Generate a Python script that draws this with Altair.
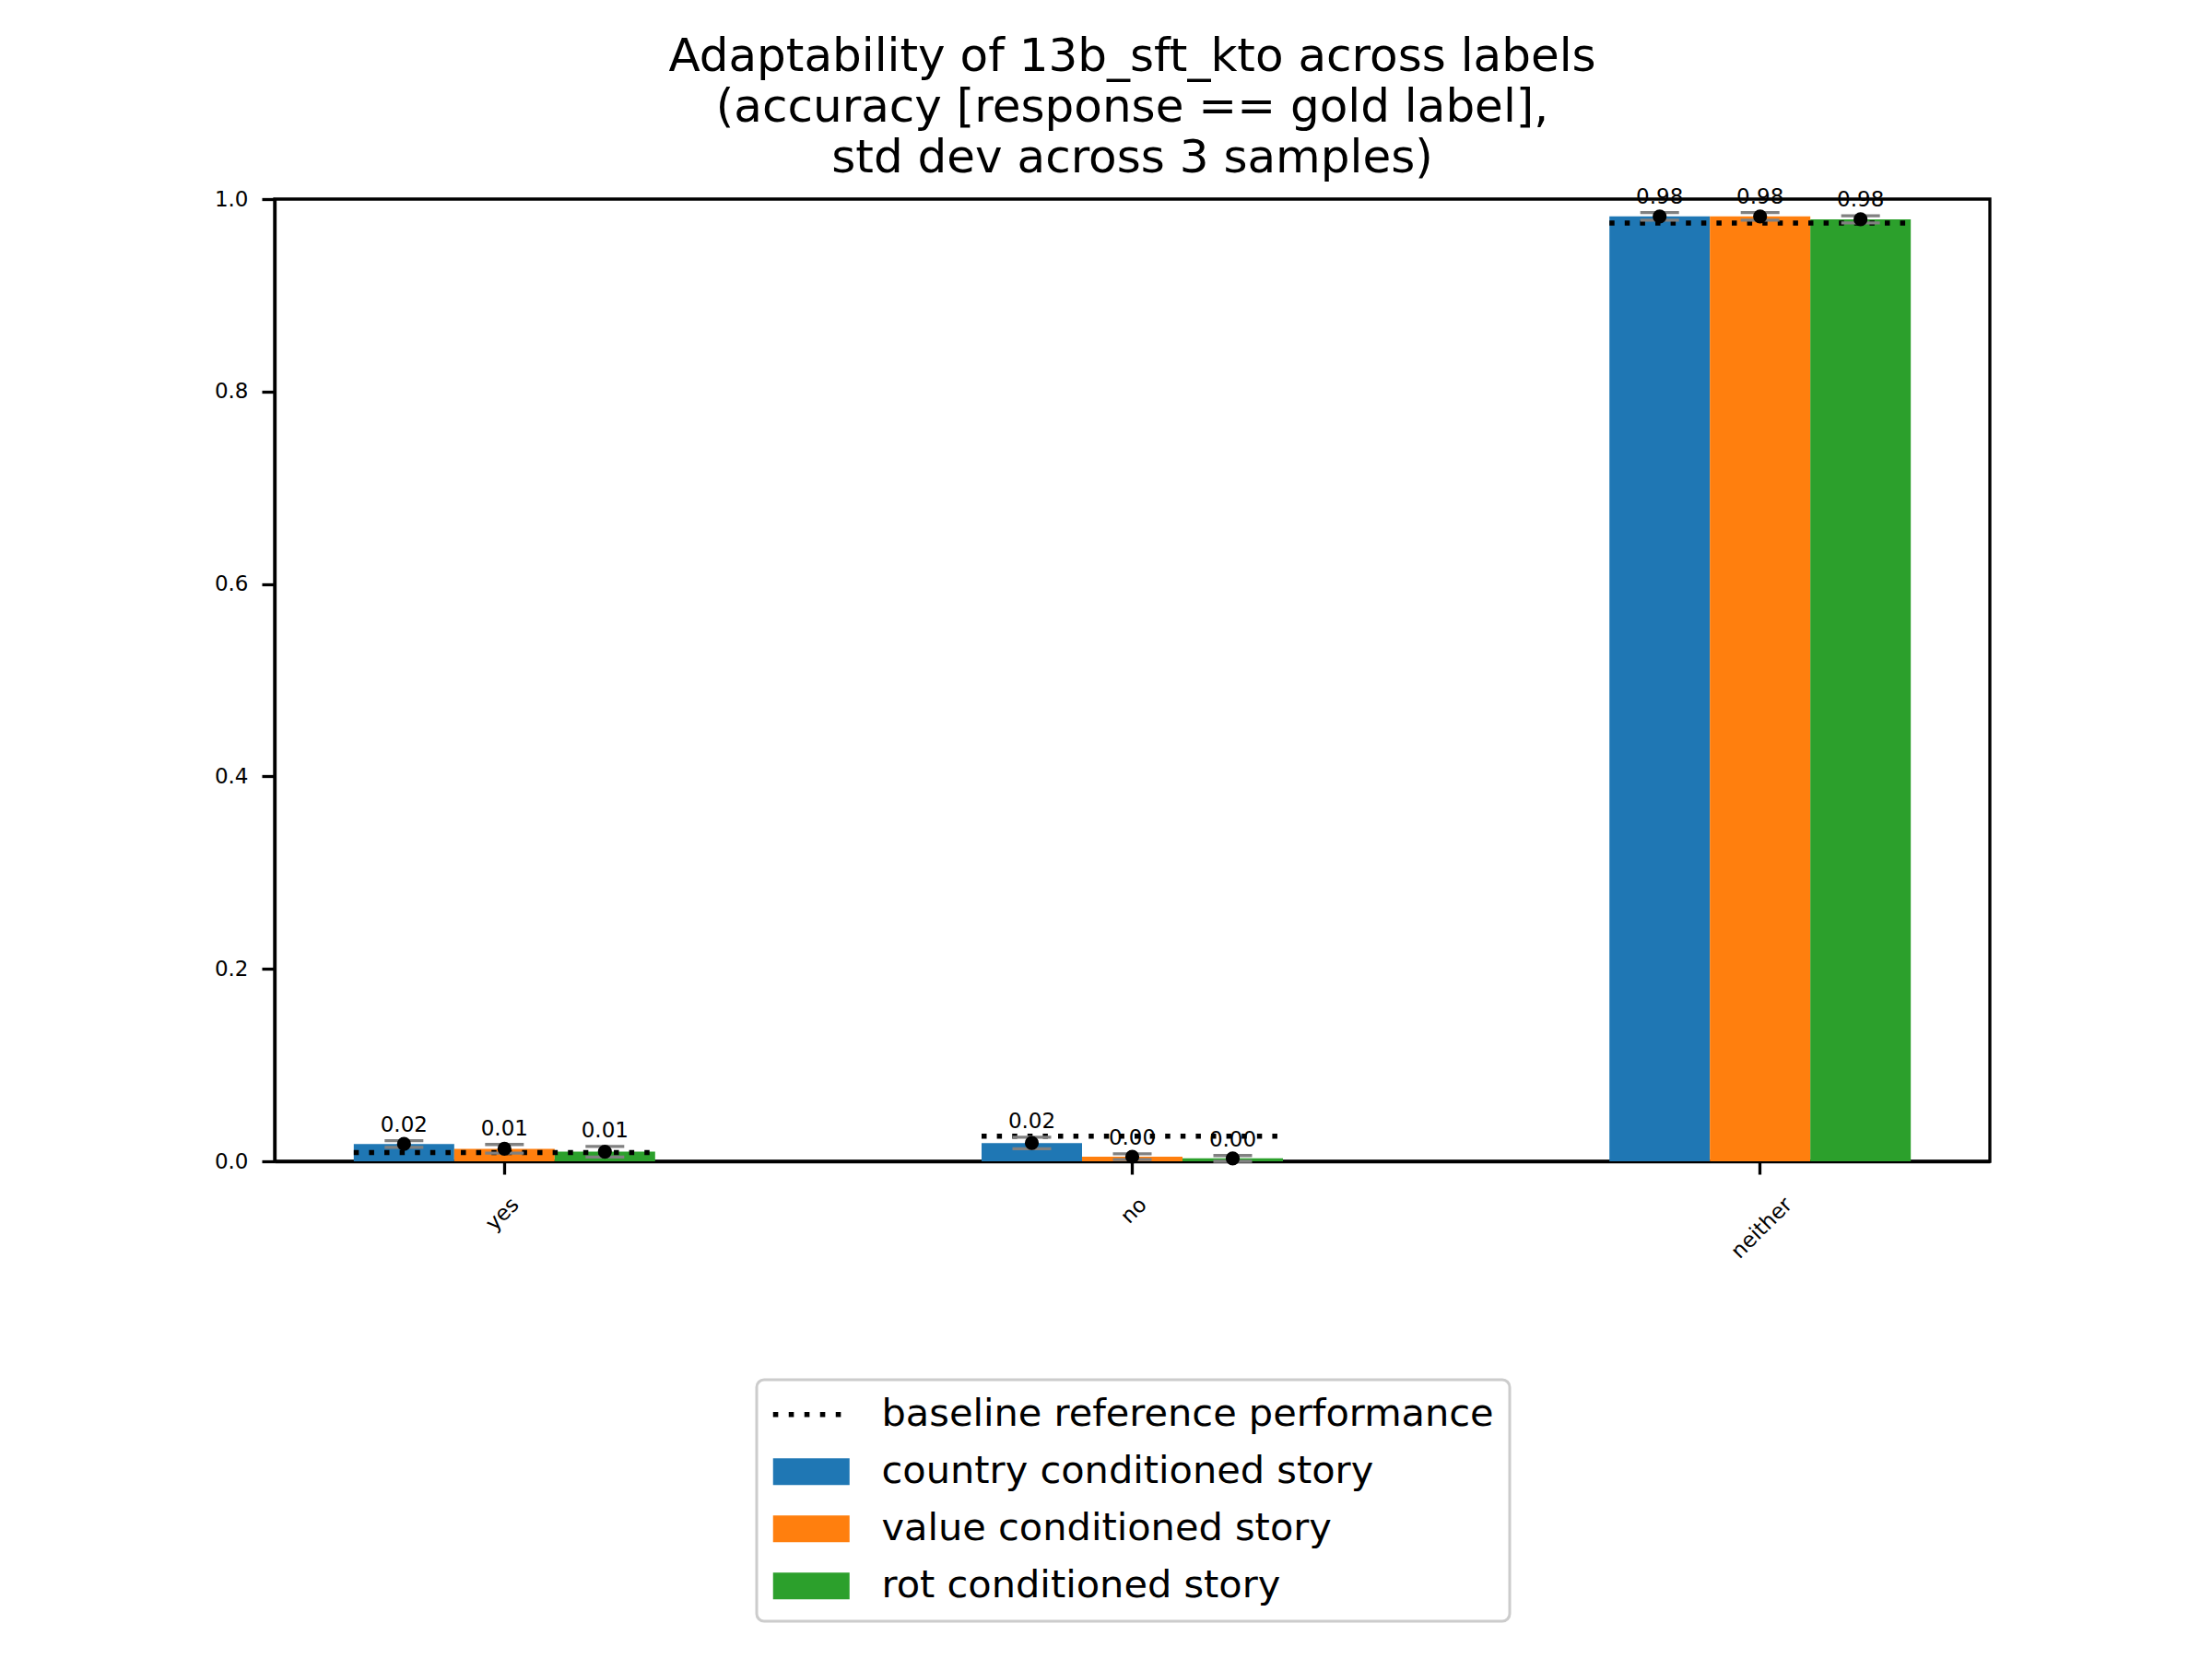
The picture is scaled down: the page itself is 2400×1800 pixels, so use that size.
import altair as alt
import pandas as pd

labels = ["yes", "no", "neither"]
series = ["country conditioned story", "value conditioned story", "rot conditioned story"]
baseline_name = "baseline reference performance"

country_mean = [0.018, 0.019, 0.982]
value_mean = [0.013, 0.0048, 0.982]
rot_mean = [0.010, 0.003, 0.979]
country_std = [0.0035, 0.006, 0.004]
value_std = [0.0045, 0.003, 0.004]
rot_std = [0.0055, 0.003, 0.0037]
baseline = [0.009, 0.026, 0.975]

y_ticks = [0.0, 0.2, 0.4, 0.6, 0.8, 1.0]

rows = []
for s, m, sd in zip(series, [country_mean, value_mean, rot_mean], [country_std, value_std, rot_std]):
    for lab, mv, sv in zip(labels, m, sd):
        rows.append({"label": lab, "series": s, "mean": mv, "std": sv})
df = pd.DataFrame(rows)
base_df = pd.DataFrame({"label": labels, "baseline": baseline})
legend_names = [baseline_name] + series
legend_df = pd.DataFrame({"series": legend_names})

colors = ["#000000", "#1f77b4", "#ff7f0e", "#2ca02c"]
rect_path = "M-1,-0.72H3.15V0.72H-1Z"
dot_path = " ".join(
    "M{:.2f},-0.14H{:.2f}V0.14H{:.2f}Z".format(x0, x0 + 0.28, x0)
    for x0 in [-1.0, -0.15, 0.70, 1.55, 2.40]
)

FONT = "DejaVu Sans"
color_scale = alt.Scale(domain=legend_names, range=colors)

x_enc = alt.X(
    "label:N", sort=labels, title=None,
    scale=alt.Scale(paddingInner=0.52, paddingOuter=0.126),
    axis=alt.Axis(
        labelAngle=315, labelAlign="right", labelBaseline="middle",
        labelFontSize=23, labelPadding=29, tickSize=14,
        labelOffset={"condition": {"test": "datum.value == 'neither'", "value": 31}, "value": 12},
    ),
)
xoff = alt.XOffset("series:N", sort=series, scale=alt.Scale(paddingInner=0, paddingOuter=0))
y_axis = alt.Axis(values=y_ticks, format=".1f", labelFontSize=23, labelPadding=15, tickSize=14)
y_scale = alt.Scale(domain=[0, 1], nice=False)

legend_props = dict(
    title=None, orient="none", legendX=523, legendY=1281,
    labelFontSize=41.5, labelFont=FONT, labelColor="black", labelLimit=2000,
    symbolSize=1600, symbolOpacity=1, symbolStrokeWidth=0, labelOffset=77,
    rowPadding=19, padding=17, strokeColor="#cccccc",
    fillColor="white", cornerRadius=8,
)
legend_layer = alt.Chart(legend_df).mark_point(filled=True, opacity=0).encode(
    color=alt.Color("series:N", sort=legend_names, scale=color_scale,
                    legend=alt.Legend(**legend_props)),
    shape=alt.Shape("series:N", sort=legend_names,
                    scale=alt.Scale(domain=legend_names, range=[dot_path, rect_path, rect_path, rect_path]),
                    legend=alt.Legend(**legend_props)),
)

bars = alt.Chart(df).mark_bar(strokeWidth=0).encode(
    x=x_enc,
    xOffset=xoff,
    y=alt.Y("mean:Q", scale=y_scale, axis=y_axis, title=None),
    color=alt.Color("series:N", sort=legend_names, scale=color_scale),
)

base_rule = alt.Chart(base_df).mark_rule(
    color="black", strokeWidth=5.5, strokeDash=[5.5, 11.1], strokeCap="butt"
).encode(
    x=alt.X("label:N", sort=labels, bandPosition=0),
    x2=alt.X2("label:N", bandPosition=1),
    y=alt.Y("baseline:Q"),
)

err_base = alt.Chart(df).transform_calculate(
    lo="datum.mean - datum.std", hi="datum.mean + datum.std"
)

stem = err_base.mark_rule(color="#808080", strokeWidth=3.3).encode(
    x=alt.X("label:N", sort=labels), xOffset=xoff,
    y="lo:Q", y2="hi:Q",
)
cap_lo = err_base.mark_tick(orient="horizontal", size=42, thickness=3.3, color="#808080", opacity=1).encode(
    x=alt.X("label:N", sort=labels), xOffset=xoff, y="lo:Q",
)
cap_hi = err_base.mark_tick(orient="horizontal", size=42, thickness=3.3, color="#808080", opacity=1).encode(
    x=alt.X("label:N", sort=labels), xOffset=xoff, y="hi:Q",
)
points = alt.Chart(df).mark_circle(size=230, color="black", opacity=1).encode(
    x=alt.X("label:N", sort=labels), xOffset=xoff, y="mean:Q",
)
texts = err_base.mark_text(fontSize=23, font=FONT, dy=-10, baseline="alphabetic", color="black").encode(
    x=alt.X("label:N", sort=labels), xOffset=xoff, y="hi:Q",
    text=alt.Text("mean:Q", format=".2f"),
)

chart = alt.layer(legend_layer, bars, base_rule, stem, cap_lo, cap_hi, points, texts).properties(
    width=1861, height=1044,
    background="white",
    autosize=alt.AutoSizeParams(type="none"),
    padding={"left": 290, "top": 208, "right": 233, "bottom": 532},
    title=alt.TitleParams(
        text=["Adaptability of 13b_sft_kto across labels",
              "(accuracy [response == gold label],",
              "std dev across 3 samples)"],
        fontSize=50, font=FONT, fontWeight="normal", lineHeight=55,
        anchor="middle", frame="group", offset=6, color="black",
    ),
).configure_view(stroke="black", strokeWidth=3.3).configure_axis(
    grid=False, domainColor="black", tickColor="black", labelColor="black",
    labelFont=FONT, domainWidth=3.3, tickWidth=3.3,
).configure_legend(strokeWidth=3)

chart.save("out.html", embed_options={"renderer": "svg", "actions": False})
